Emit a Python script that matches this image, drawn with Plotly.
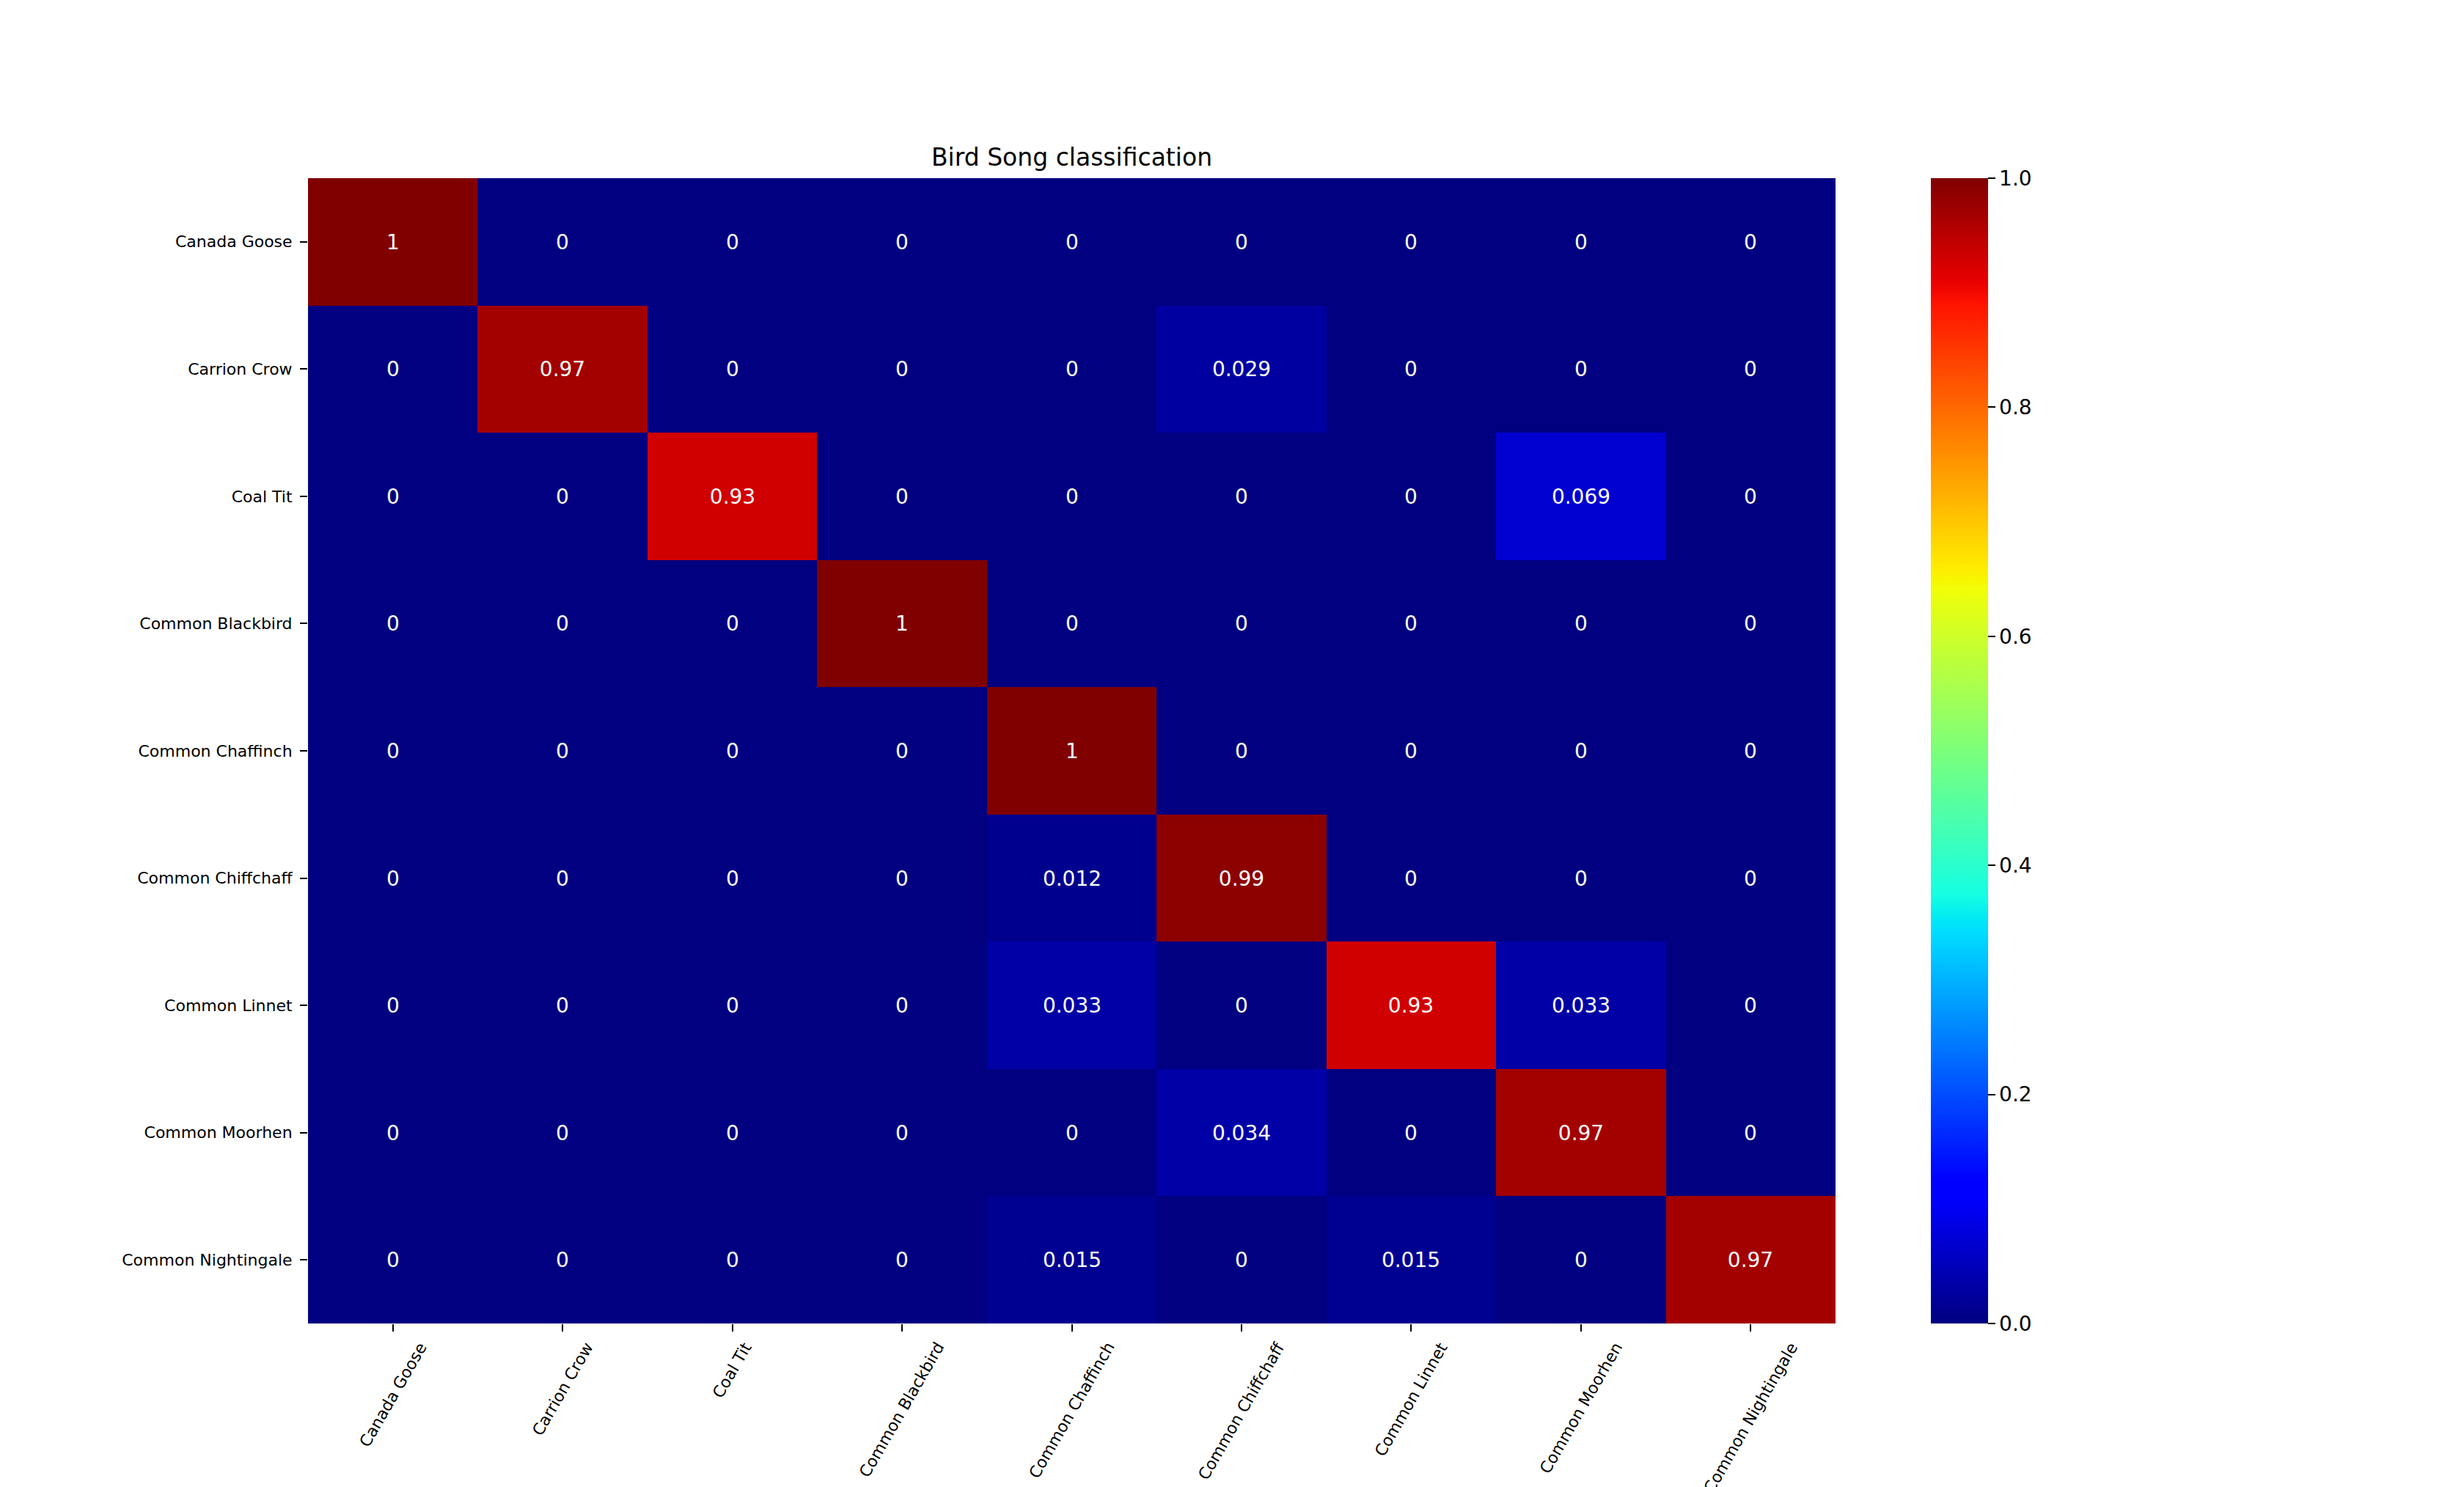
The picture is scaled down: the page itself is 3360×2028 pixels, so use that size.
import plotly.graph_objects as go

# ---------------- data ----------------
categories = [
    "Canada Goose", "Carrion Crow", "Coal Tit", "Common Blackbird",
    "Common Chaffinch", "Common Chiffchaff", "Common Linnet",
    "Common Moorhen", "Common Nightingale",
]
row_canada_goose = [1, 0, 0, 0, 0, 0, 0, 0, 0]
row_carrion_crow = [0, 0.97, 0, 0, 0, 0.029, 0, 0, 0]
row_coal_tit = [0, 0, 0.93, 0, 0, 0, 0, 0.069, 0]
row_common_blackbird = [0, 0, 0, 1, 0, 0, 0, 0, 0]
row_common_chaffinch = [0, 0, 0, 0, 1, 0, 0, 0, 0]
row_common_chiffchaff = [0, 0, 0, 0, 0.012, 0.99, 0, 0, 0]
row_common_linnet = [0, 0, 0, 0, 0.033, 0, 0.93, 0.033, 0]
row_common_moorhen = [0, 0, 0, 0, 0, 0.034, 0, 0.97, 0]
row_common_nightingale = [0, 0, 0, 0, 0.015, 0, 0.015, 0, 0.97]
colorbar_ticks = [0.0, 0.2, 0.4, 0.6, 0.8, 1.0]
title_text = "Bird Song classification"

matrix = [
    row_canada_goose, row_carrion_crow, row_coal_tit, row_common_blackbird,
    row_common_chaffinch, row_common_chiffchaff, row_common_linnet,
    row_common_moorhen, row_common_nightingale,
]

# ---------------- matplotlib "jet" colormap ----------------
JET = {
    "r": [(0, 0), (0.35, 0), (0.66, 1), (0.89, 1), (1, 0.5)],
    "g": [(0, 0), (0.125, 0), (0.375, 1), (0.64, 1), (0.91, 0), (1, 0)],
    "b": [(0, 0.5), (0.11, 1), (0.34, 1), (0.65, 0), (1, 0)],
}


def _seg(points, t):
    for (x0, y0), (x1, y1) in zip(points[:-1], points[1:]):
        if x0 <= t <= x1:
            if x1 == x0:
                return y1
            return y0 + (y1 - y0) * (t - x0) / (x1 - x0)
    return points[-1][1]


stops = sorted({p[0] for pts in JET.values() for p in pts})
jet_scale = []
for s in stops:
    r, g, b = (round(255 * _seg(JET[c], s)) for c in "rgb")
    jet_scale.append([s, f"rgb({r},{g},{b})"])

FONT = "DejaVu Sans"

fig = go.Figure(
    go.Heatmap(
        z=matrix,
        x=categories,
        y=categories,
        zmin=0,
        zmax=1,
        colorscale=jet_scale,
        texttemplate="%{z:.2~g}",
        textfont=dict(family=FONT, size=28, color="white"),
        hoverongaps=False,
        colorbar=dict(
            x=1.0624,
            xanchor="left",
            xpad=0,
            y=0.5,
            yanchor="middle",
            ypad=0,
            len=1,
            lenmode="fraction",
            thickness=78,
            thicknessmode="pixels",
            outlinewidth=0,
            tickvals=colorbar_ticks,
            ticktext=[f"{v:.1f}" for v in colorbar_ticks],
            ticks="outside",
            ticklen=10,
            tickwidth=2.2,
            tickcolor="black",
            tickfont=dict(family=FONT, size=28, color="black"),
        ),
    )
)

# rotated x labels placed like matplotlib (rotation=60, ha=center, va=top)
for cat in categories:
    fig.add_annotation(
        x=cat, xref="x", y=-0.013, yref="paper",
        text=cat, textangle=-60, showarrow=False,
        xanchor="center", yanchor="top", borderpad=0,
        font=dict(family=FONT, size=22, color="black"),
    )

# the page body adds an 8px offset; margins compensate so the plot area
# lands at x 420..2503, y 243..1805 of the window
fig.update_layout(
    width=3360,
    height=2028,
    margin=dict(l=412, r=865, t=235, b=231, pad=0),
    paper_bgcolor="white",
    plot_bgcolor="white",
    font=dict(family=FONT, color="black"),
    title=dict(
        text=title_text,
        x=0.5, xref="paper", xanchor="center",
        y=1 - 206 / 2028, yref="container", yanchor="middle",
        font=dict(family=FONT, size=33, color="black"),
    ),
    xaxis=dict(
        showgrid=False, zeroline=False, showline=False,
        ticks="outside", ticklen=10, tickwidth=2.2, tickcolor="black",
        showticklabels=False,
    ),
    yaxis=dict(
        autorange="reversed",
        showgrid=False, zeroline=False, showline=False,
        ticks="outside", ticklen=10, tickwidth=2.2, tickcolor="black",
        tickfont=dict(family=FONT, size=22, color="black"),
        ticklabelstandoff=6,
    ),
)

fig.write_html("out.html")
